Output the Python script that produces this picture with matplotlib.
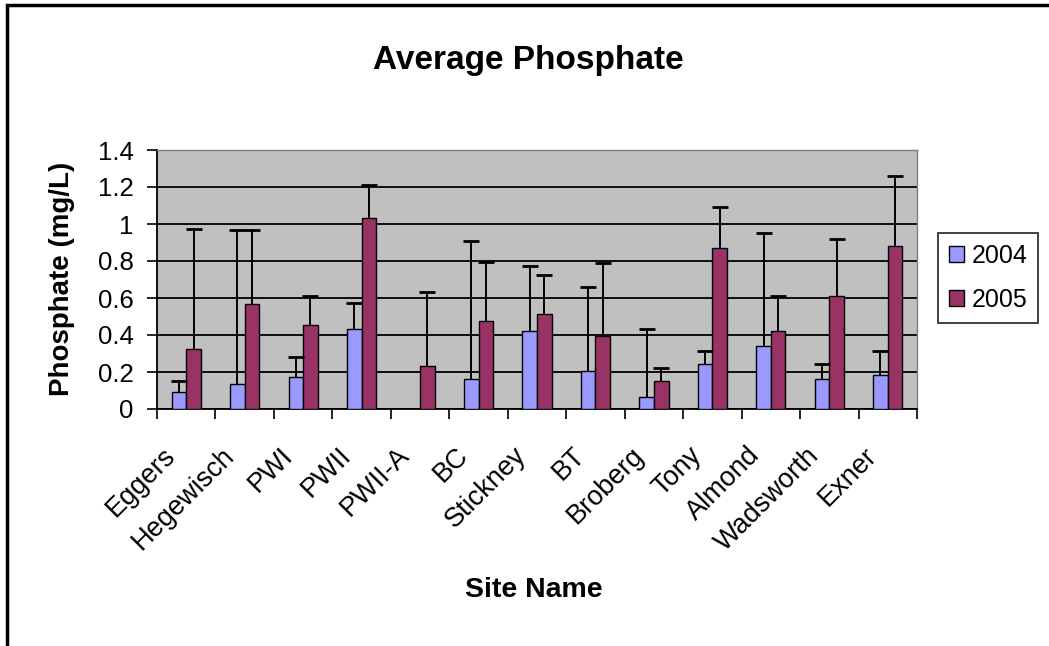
import numpy as np
import matplotlib.pyplot as plt
from matplotlib.patches import Rectangle

plt.rcParams['font.family'] = ['Liberation Sans', 'DejaVu Sans']

sites = ['Eggers', 'Hegewisch', 'PWI', 'PWII', 'PWII-A', 'BC', 'Stickney',
         'BT', 'Broberg', 'Tony', 'Almond', 'Wadsworth', 'Exner']
avg_2004 = [0.09, 0.135, 0.171, 0.431, 0.0, 0.161, 0.42, 0.208, 0.067,
            0.244, 0.338, 0.162, 0.182]
avg_2005 = [0.327, 0.565, 0.455, 1.034, 0.231, 0.478, 0.516, 0.392, 0.15,
            0.87, 0.42, 0.61, 0.881]
# tops of the (upper) error bars
top_2004 = [0.153, 0.966, 0.28, 0.574, 0.0, 0.906, 0.774, 0.659, 0.433,
            0.314, 0.953, 0.244, 0.314]
top_2005 = [0.975, 0.966, 0.61, 1.213, 0.632, 0.794, 0.727, 0.79, 0.22,
            1.094, 0.61, 0.919, 1.262]
has_2004 = [True, True, True, True, False, True, True, True, True,
            True, True, True, True]

W, H = 1049, 646
fig = plt.figure(figsize=(W / 100, H / 100), dpi=100)
ax = fig.add_axes([157 / W, 1 - 409 / H, (917 - 157) / W, (409 - 150) / H])
ax.set_facecolor('#c0c0c0')

x = np.arange(len(sites))
w = 0.25
a4 = np.array(avg_2004)
a5 = np.array(avg_2005)
t4 = np.array(top_2004)
t5 = np.array(top_2005)
m4 = np.array(has_2004)

ax.bar(x - w / 2, a4, w, color='#9999ff', edgecolor='black', lw=1.0,
       label='2004', zorder=3)
ax.bar(x + w / 2, a5, w, color='#993366', edgecolor='black', lw=1.0,
       label='2005', zorder=3)

# plus-only error bars: stem from bar top, cap at the top only
for xs, lo, hi in [(x[m4] - w / 2, a4[m4], t4[m4]), (x + w / 2, a5, t5)]:
    ax.vlines(xs, lo, hi, color='black', lw=1.4, zorder=4)
    ax.plot(xs, hi, ls='none', marker='_', markersize=11,
            markeredgewidth=2.0, color='black', zorder=4)

ax.set_xlim(-0.5, len(sites) - 0.5)
ax.set_ylim(0, 1.4)
ax.set_yticks(np.arange(0, 1.41, 0.2))
ax.set_yticklabels(['0', '0.2', '0.4', '0.6', '0.8', '1', '1.2', '1.4'],
                   fontsize=18.5)
ax.yaxis.grid(True, color='black', lw=1.3, zorder=1)
ax.set_axisbelow(True)

ax.set_xticks(np.arange(-0.5, len(sites), 1.0))
ax.set_xticklabels([])
# category labels, rotated like Excel's (shifted left of the category centre)
for xi, name in zip(x, sites):
    ax.annotate(name, xy=(xi, 0), xycoords=ax.get_xaxis_transform(),
                xytext=(-17, -24), textcoords='offset points',
                rotation=45, ha='right', va='top', rotation_mode='anchor',
                fontsize=19.5)
ax.tick_params(axis='x', length=7, width=1.2, direction='out')
ax.tick_params(axis='y', length=7, width=1.2, direction='out', pad=10)

for s in ['left', 'bottom']:
    ax.spines[s].set_color('black')
    ax.spines[s].set_linewidth(1.3)
for s in ['top', 'right']:
    ax.spines[s].set_color('#808080')
    ax.spines[s].set_linewidth(1.0)

fig.text(528 / W, 1 - 60 / H, 'Average Phosphate', ha='center', va='center',
         fontsize=24, fontweight='bold')
fig.text(534 / W, 1 - 590 / H, 'Site Name', ha='center', va='center',
         fontsize=20.5, fontweight='bold')
fig.text(62 / W, 1 - 279 / H, 'Phosphate (mg/L)', ha='center', va='center',
         rotation=90, fontsize=20, fontweight='bold')

leg = fig.legend(loc='center', bbox_to_anchor=(988 / W, 1 - 278 / H),
                 fontsize=18, frameon=True, fancybox=False, edgecolor='black',
                 handlelength=0.6, handleheight=0.6, handletextpad=0.3,
                 borderpad=0.45, labelspacing=0.8, borderaxespad=0)
leg.get_frame().set_linewidth(1.3)

# outer chart border (only left and top visible in the crop)
fig.patches.append(Rectangle((7 / W, -0.1), 1.2, 1 - 5 / H + 0.1,
                             transform=fig.transFigure, fill=False,
                             edgecolor='black', lw=2.5))

fig.savefig('out.png', dpi=100)
